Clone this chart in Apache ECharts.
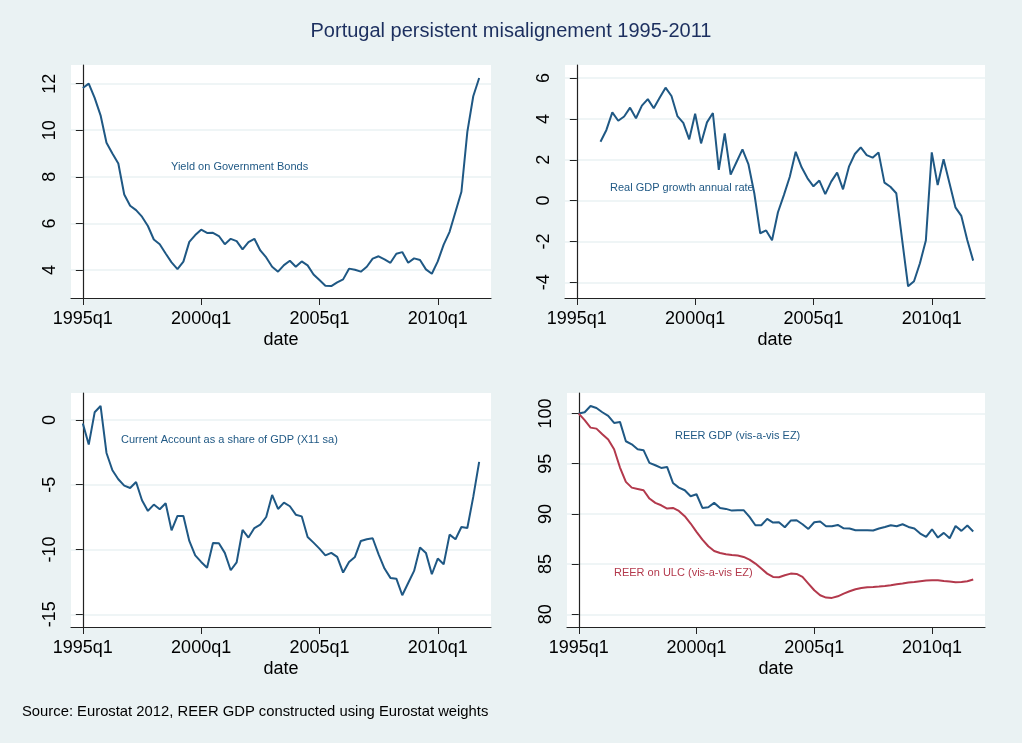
<!DOCTYPE html>
<html>
<head>
<meta charset="utf-8">
<script src="https://cdn.jsdelivr.net/npm/echarts@6/dist/echarts.min.js"></script>
<style>
  html, body { margin: 0; padding: 0; background: #eaf2f3; }
  #chart { width: 1022px; height: 743px; }
</style>
</head>
<body>
<div id="chart"></div>
<script>
// quarterly data, 1995q1 .. 2011q4 (index 0 .. 67)
const xTickPos = [0, 20, 40, 60]
const xTickLabels = ['1995q1', '2000q1', '2005q1', '2010q1']

const bondYield = [
  11.81, 12.0, 11.39, 10.64, 9.46, 9.0, 8.57, 7.24, 6.76, 6.57,
  6.29, 5.89, 5.31, 5.11, 4.71, 4.33, 4.04, 4.36, 5.21, 5.5,
  5.73, 5.59, 5.6, 5.46, 5.11, 5.34, 5.24, 4.89, 5.2, 5.34,
  4.84, 4.54, 4.14, 3.93, 4.21, 4.4, 4.14, 4.37, 4.2, 3.81,
  3.57, 3.33, 3.31, 3.47, 3.6, 4.06, 4.01, 3.93, 4.14, 4.49,
  4.59, 4.46, 4.31, 4.7, 4.77, 4.31, 4.5, 4.43, 4.03, 3.84,
  4.37, 5.09, 5.64, 6.5, 7.36, 9.93, 11.46, 12.24
]

// real GDP growth starts in 1996q1
const gdpStart = 4
const gdpGrowth = [
  2.88, 3.46, 4.32, 3.91, 4.12, 4.55, 4.03, 4.65, 4.97, 4.52,
  5.04, 5.53, 5.12, 4.14, 3.81, 3.0, 4.25, 2.8, 3.83, 4.29,
  1.5, 3.29, 1.27, 1.89, 2.51, 1.79, 0.36, -1.6, -1.46, -1.94,
  -0.57, 0.27, 1.17, 2.39, 1.63, 1.09, 0.7, 0.98, 0.32, 0.93,
  1.37, 0.55, 1.66, 2.28, 2.61, 2.23, 2.1, 2.36, 0.88, 0.68,
  0.36, -1.93, -4.2, -3.95, -3.07, -1.96, 2.36, 0.76, 2.02, 0.85,
  -0.33, -0.75, -1.93, -2.94
]

const currentAccount = [
  -0.28, -1.9, 0.59, 1.08, -2.55, -3.88, -4.58, -5.07, -5.25, -4.79,
  -6.2, -7.02, -6.53, -6.89, -6.43, -8.52, -7.41, -7.41, -9.34, -10.45,
  -10.96, -11.4, -9.49, -9.52, -10.26, -11.6, -10.99, -8.49, -9.08, -8.34,
  -8.08, -7.49, -5.79, -6.87, -6.38, -6.66, -7.31, -7.44, -9.03, -9.47,
  -9.93, -10.45, -10.26, -10.57, -11.78, -10.96, -10.57, -9.34, -9.21, -9.13,
  -10.37, -11.47, -12.19, -12.25, -13.53, -12.58, -11.65, -9.85, -10.26, -11.91,
  -10.7, -11.14, -8.85, -9.21, -8.26, -8.34, -5.94, -3.24
]

const reerGdp = [
  100, 100.13, 100.76, 100.56, 100.13, 99.77, 99.07, 99.17, 97.24, 96.94,
  96.45, 96.35, 95.08, 94.85, 94.58, 94.68, 93.09, 92.62, 92.36, 91.76,
  91.96, 90.6, 90.66, 91.1, 90.6, 90.5, 90.33, 90.37, 90.37, 89.7,
  88.87, 88.87, 89.5, 89.14, 89.17, 88.67, 89.34, 89.37, 88.97, 88.5,
  89.17, 89.24, 88.77, 88.77, 88.9, 88.57, 88.54, 88.37, 88.37, 88.37,
  88.34, 88.54, 88.7, 88.87, 88.77, 88.97, 88.7, 88.54, 88.04, 87.71,
  88.47, 87.64, 88.11, 87.57, 88.8, 88.31, 88.84, 88.24
]

const reerUlc = [
  100, 99.34, 98.6, 98.5, 97.94, 97.41, 96.45, 94.62, 93.19, 92.62,
  92.49, 92.36, 91.53, 91.1, 90.86, 90.53, 90.6, 90.3, 89.77, 89.04,
  88.21, 87.44, 86.78, 86.31, 86.11, 85.98, 85.91, 85.85, 85.71, 85.45,
  85.05, 84.55, 84.05, 83.72, 83.69, 83.89, 84.05, 84.02, 83.72, 83.06,
  82.39, 81.89, 81.66, 81.63, 81.79, 82.06, 82.29, 82.49, 82.62, 82.69,
  82.72, 82.76, 82.82, 82.89, 82.99, 83.06, 83.16, 83.22, 83.29, 83.36,
  83.39, 83.39, 83.32, 83.26, 83.19, 83.22, 83.29, 83.46
]

const yTicks = [
  [4, 6, 8, 10, 12],
  [-4, -2, 0, 2, 4, 6],
  [-15, -10, -5, 0],
  [80, 85, 90, 95, 100]
]
const yRange = [
  [2.8, 12.8],
  [-4.77, 6.64],
  [-15.98, 2.08],
  [78.73, 102.05]
]

const navy = '#1f5884'
const maroon = '#b3394c'
const font = 'Helvetica, "Liberation Sans", Arial, sans-serif'

function toPairs(values, start) {
  start = start || 0
  return values.map((v, i) => [start + i, v])
}

const grids = [
  { left: 71, top: 65, width: 420, height: 233 },
  { left: 565, top: 65, width: 420, height: 233 },
  { left: 71, top: 393, width: 420, height: 234 },
  { left: 567, top: 393, width: 418, height: 234 }
].map(g => Object.assign(g, {
  show: true, backgroundColor: '#ffffff', borderWidth: 0
}))

const xAxes = grids.map((g, k) => ({
  type: 'value',
  gridIndex: k,
  min: -2,
  max: 69,
  name: 'date',
  nameLocation: 'middle',
  nameGap: 33,
  nameTextStyle: { fontSize: 18, color: '#000', fontFamily: font },
  axisLine: { show: true, onZero: false, lineStyle: { color: '#222', width: 1.2 } },
  axisTick: { show: true, length: 7, customValues: xTickPos, lineStyle: { color: '#222' } },
  axisLabel: {
    customValues: xTickPos,
    fontSize: 18, color: '#000', fontFamily: font, margin: 12,
    formatter: v => xTickLabels[xTickPos.indexOf(v)]
  },
  splitLine: { show: false }
}))

const yAxes = grids.map((g, k) => ({
  type: 'value',
  gridIndex: k,
  min: yRange[k][0],
  max: yRange[k][1],
  axisLine: { show: true, lineStyle: { color: '#222', width: 1.2 } },
  axisTick: { show: true, length: 7, customValues: yTicks[k], lineStyle: { color: '#222' } },
  axisLabel: {
    customValues: yTicks[k],
    rotate: 90,
    fontSize: 18, color: '#000', fontFamily: font, margin: 12
  },
  splitLine: { show: true, lineStyle: { color: '#eaf2f3', width: 1.5 } }
}))

function line(name, data, k, color) {
  return {
    name: name,
    type: 'line',
    xAxisIndex: k,
    yAxisIndex: k,
    data: data,
    showSymbol: false,
    silent: true,
    lineStyle: { color: color, width: 2 },
    itemStyle: { color: color }
  }
}

function note(text, x, y, color) {
  return {
    type: 'text',
    left: x,
    top: y,
    style: { text: text, fill: color, fontSize: 11, fontFamily: font },
    z: 10
  }
}

const chart = echarts.init(document.getElementById('chart'), null, { renderer: 'canvas' })

chart.setOption({
  backgroundColor: '#eaf2f3',
  animation: false,
  title: {
    text: 'Portugal persistent misalignement 1995-2011',
    left: 'center',
    top: 16,
    textStyle: { fontSize: 20, fontWeight: 'normal', color: '#1c2f5f', fontFamily: font }
  },
  grid: grids,
  xAxis: xAxes,
  yAxis: yAxes,
  series: [
    line('Yield on Government Bonds', toPairs(bondYield), 0, navy),
    line('Real GDP growth annual rate', toPairs(gdpGrowth, gdpStart), 1, navy),
    line('Current Account as a share of GDP (X11 sa)', toPairs(currentAccount), 2, navy),
    line('REER GDP (vis-a-vis EZ)', toPairs(reerGdp), 3, navy),
    line('REER on ULC (vis-a-vis EZ)', toPairs(reerUlc), 3, maroon)
  ],
  graphic: [
    note('Yield on Government Bonds', 171, 161, navy),
    note('Real GDP growth annual rate', 610, 182, navy),
    note('Current Account as a share of GDP (X11 sa)', 121, 434, navy),
    note('REER GDP (vis-a-vis EZ)', 675, 430, navy),
    note('REER on ULC (vis-a-vis EZ)', 614, 567, maroon),
    {
      type: 'text',
      left: 22,
      top: 704,
      style: {
        text: 'Source: Eurostat 2012, REER GDP constructed using Eurostat weights',
        fill: '#000', fontSize: 14.8, fontFamily: font
      }
    }
  ]
})
</script>
</body>
</html>
